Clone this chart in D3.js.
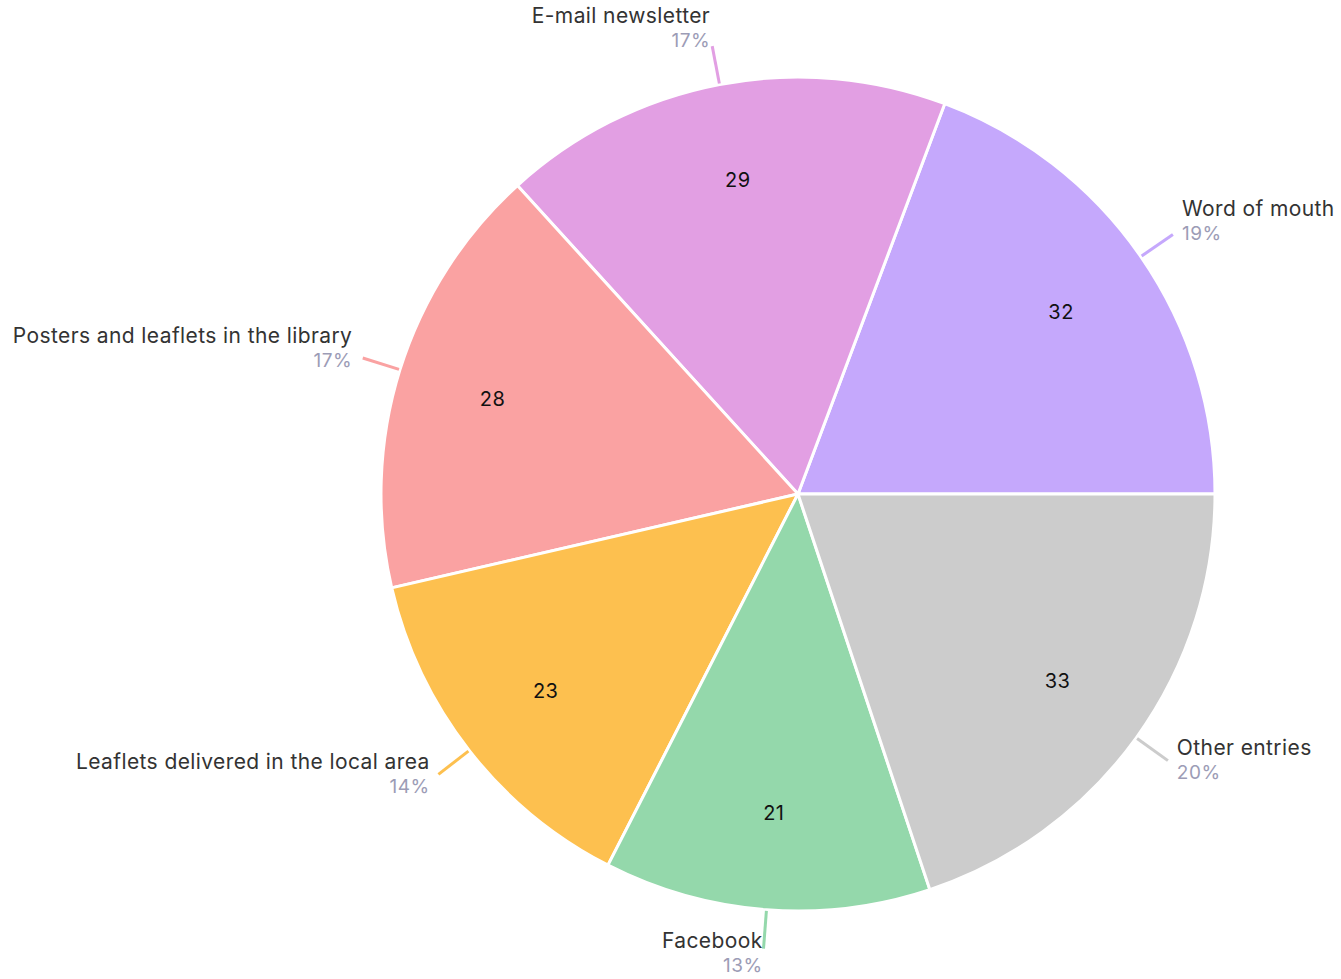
<!DOCTYPE html>
<html lang="en">
<head>
    <meta charset="UTF-8">
    <title>Pie</title>
    <script src="https://cdnjs.cloudflare.com/ajax/libs/d3/7.8.5/d3.min.js"></script>
    <style>
        body { margin: 0; background: #ffffff; }
    </style>
</head>
<body>
    <script>
        // chart data
        var categories = ["Word of mouth", "E-mail newsletter", "Posters and leaflets in the library",
                          "Leaflets delivered in the local area", "Facebook", "Other entries"];
        var values = [32, 29, 28, 23, 21, 33];
        var percentLabels = ["19%", "17%", "17%", "14%", "13%", "20%"];
        var colors = ["#c5a8fc", "#e29fe3", "#faa2a2", "#fdc04f", "#94d8ab", "#cccccc"];

        var width = 1341, height = 979;
        var cx = 798, cy = 494, radius = 417;
        var font = "Inter, 'DejaVu Sans', sans-serif";

        var svg = d3.select("body")
            .append("svg")
            .attr("width", width)
            .attr("height", height);

        var g = svg.append("g")
            .attr("transform", "translate(" + cx + "," + cy + ")");

        // start at 3 o'clock and go counter-clockwise
        var pie = d3.pie()
            .sort(null)
            .startAngle(Math.PI / 2)
            .endAngle(Math.PI / 2 - 2 * Math.PI)
            .value(function(d) { return d; });

        var arcs = pie(values);
        var arc = d3.arc().innerRadius(0).outerRadius(radius);
        var valueArc = d3.arc().innerRadius(320).outerRadius(320);

        g.selectAll("path.slice")
            .data(arcs)
            .enter()
            .append("path")
            .attr("class", "slice")
            .attr("d", arc)
            .attr("fill", function(d, i) { return colors[i]; })
            .attr("stroke", "#ffffff")
            .attr("stroke-width", 3);

        g.selectAll("text.value")
            .data(arcs)
            .enter()
            .append("text")
            .attr("class", "value")
            .attr("transform", function(d) { return "translate(" + valueArc.centroid(d) + ")"; })
            .attr("text-anchor", "middle")
            .attr("dy", "0.35em")
            .style("font-family", font)
            .style("font-size", "20px")
            .style("letter-spacing", "0.5px")
            .attr("fill", "#111111")
            .text(function(d) { return d.value; });

        // outer label ticks
        function mid(d) { return (d.startAngle + d.endAngle) / 2; }

        arcs.forEach(function(d, i) {
            var a = mid(d);
            var sx = Math.sin(a), sy = -Math.cos(a); // unit vector (screen)
            var x0 = sx * (radius + 1), y0 = sy * (radius + 1);
            var x1 = sx * 456, y1 = sy * 456;
            g.append("line")
                .attr("x1", x0).attr("y1", y0)
                .attr("x2", x1).attr("y2", y1)
                .attr("stroke", colors[i])
                .attr("stroke-width", 3);

            var up = -sy; // sin of angle measured from east, ccw
            var tx = x1 + 11 * sx;
            var anchor = sx >= 0 ? "start" : "end";
            var nameY = y1 - 12 - 11 * up;

            g.append("text")
                .attr("x", tx).attr("y", nameY)
                .attr("text-anchor", anchor)
                .style("font-family", font)
                .style("font-size", "21px")
                .style("letter-spacing", "0.4px")
                .attr("fill", "#333333")
                .text(categories[i]);

            g.append("text")
                .attr("x", tx).attr("y", nameY + 24)
                .attr("text-anchor", anchor)
                .style("font-family", font)
                .style("font-size", "19px")
                .style("letter-spacing", "0.5px")
                .attr("fill", "#9c9cb6")
                .text(percentLabels[i]);
        });
    </script>
</body>
</html>
